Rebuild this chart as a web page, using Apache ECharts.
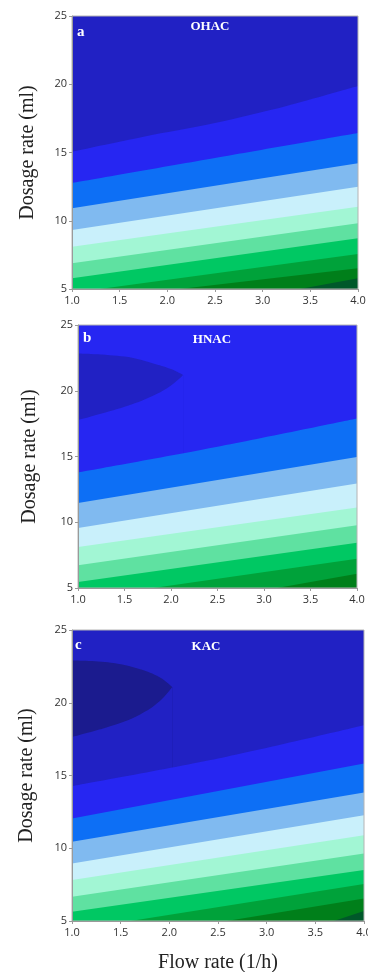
<!DOCTYPE html>
<html>
<head>
<meta charset="utf-8">
<script src="https://cdn.jsdelivr.net/npm/echarts@6/dist/echarts.min.js"></script>
<style>html,body{margin:0;padding:0;background:#fff;}#c{width:368px;height:972px;}</style>
</head>
<body>
<div id="c"></div>
<script>
// ---- data ----
const panelNames = ['OHAC', 'HNAC', 'KAC'];
const panelLetters = ['a', 'b', 'c'];
const xTicks = [1.0, 1.5, 2.0, 2.5, 3.0, 3.5, 4.0];
const yTicks = [5, 10, 15, 20, 25];

// Panel a: contour boundaries [flow, dosage], each listed top to bottom
const aBound1 = [[1, 15.06], [1.75, 16.16], [2.5, 17.16], [3.25, 18.41], [4, 19.87]];
const aBound2 = [[1, 12.77], [2.5, 14.6], [4, 16.43]];
const aBound3 = [[1, 10.91], [4, 14.21]];
const aBound4 = [[1, 9.32], [4, 12.5]];
const aBound5 = [[1, 8.1], [4, 11.03]];
const aBound6 = [[1, 6.88], [4, 9.81]];
const aBound7 = [[1, 5.78], [4, 8.71]];
const aBound8 = [[1.29, 5], [4, 7.56]];
const aBound9 = [[2.13, 5], [4, 6.52]];
const aBound10 = [[3.39, 5], [4, 5.78]];

// Panel b
const bEllipseUpper = [[1, 22.84], [1.5, 22.6], [1.8, 22.1], [2.0, 21.65], [2.13, 21.2]];
const bEllipseLower = [[1, 17.77], [1.5, 18.78], [1.8, 19.6], [2.0, 20.4], [2.13, 21.2]];
const bBound1 = [[1, 13.78], [2.5, 15.74], [4, 17.89]];
const bBound2 = [[1, 11.47], [4, 14.97]];
const bBound3 = [[1, 9.57], [4, 12.94]];
const bBound4 = [[1, 8.12], [4, 11.12]];
const bBound5 = [[1, 6.73], [4, 9.77]];
const bBound6 = [[1, 5.46], [4, 8.45]];
const bBound7 = [[1.81, 5], [4, 7.23]];
const bBound8 = [[3.14, 5], [4, 6.09]];

// Panel c
const cEllipseUpper = [[1, 22.9], [1.4, 22.75], [1.7, 22.3], [1.9, 21.75], [2.03, 21.08]];
const cEllipseLower = [[1, 17.65], [1.4, 18.4], [1.7, 19.2], [1.9, 20.1], [2.03, 21.08]];
const cBound1 = [[1, 14.26], [2.5, 16.16], [4, 18.45]];
const cBound2 = [[1, 12.04], [4, 15.82]];
const cBound3 = [[1, 10.44], [4, 13.83]];
const cBound4 = [[1, 8.96], [4, 12.27]];
const cBound5 = [[1, 7.81], [4, 10.9]];
const cBound6 = [[1, 6.67], [4, 9.64]];
const cBound7 = [[1, 5.64], [4, 8.5]];
const cBound8 = [[1.6, 5], [4, 7.54]];
const cBound9 = [[2.59, 5], [4, 6.55]];
const cBound10 = [[3.69, 5], [4, 5.69]];

const topEdge = [[1, 25], [4, 25]];

// ---- styling ----
const C = {
  navy: '#1b1b8e', darkBlue: '#2121c4', brightBlue: '#2626f2', midBlue: '#0d6ff5',
  lightBlue: '#80baf0', paleBlue: '#c9f0fb', mint: '#a2f6d4', lightGreen: '#5fe1a1',
  green: '#00c863', darkerGreen: '#00a23a', darkGreen: '#007f1a', darkestGreen: '#00582a'
};

const panels = [
  { grid: { left: 72, right: 10, top: 16, height: 273 }, nameGap: 34, fills: [
      [topEdge, C.darkBlue], [aBound1, C.brightBlue], [aBound2, C.midBlue], [aBound3, C.lightBlue],
      [aBound4, C.paleBlue], [aBound5, C.mint], [aBound6, C.lightGreen], [aBound7, C.green],
      [aBound8, C.darkerGreen], [aBound9, C.darkGreen], [aBound10, C.darkestGreen]] },
  { grid: { left: 78, right: 11, top: 325, height: 263 }, nameGap: 38, fills: [
      [topEdge, C.brightBlue], [bEllipseUpper, C.darkBlue, true], [bEllipseLower, C.brightBlue, true],
      [bBound1, C.midBlue], [bBound2, C.lightBlue], [bBound3, C.paleBlue], [bBound4, C.mint],
      [bBound5, C.lightGreen], [bBound6, C.green], [bBound7, C.darkerGreen], [bBound8, C.darkGreen]] },
  { grid: { left: 72, right: 4, top: 630, height: 291 }, nameGap: 35, fills: [
      [topEdge, C.darkBlue], [cEllipseUpper, C.navy, true], [cEllipseLower, C.darkBlue, true],
      [cBound1, C.brightBlue], [cBound2, C.midBlue], [cBound3, C.lightBlue], [cBound4, C.paleBlue],
      [cBound5, C.mint], [cBound6, C.lightGreen], [cBound7, C.green], [cBound8, C.darkerGreen],
      [cBound9, C.darkGreen], [cBound10, C.darkestGreen]] }
];

const serif = '"Liberation Serif", "DejaVu Serif", serif';
const sans = '"Open Sans", "Liberation Sans", sans-serif';

const grids = [], xAxes = [], yAxes = [], series = [];
panels.forEach((p, i) => {
  grids.push(Object.assign({ show: true, borderColor: '#b4b4b4', borderWidth: 1, backgroundColor: 'transparent', z: 5,
    containLabel: false, outerBoundsMode: 'none' }, p.grid));
  xAxes.push({
    type: 'value', gridIndex: i, min: xTicks[0], max: xTicks[xTicks.length - 1], interval: 0.5, z: 6,
    axisLine: { show: true, lineStyle: { color: '#9a9a9a' } },
    axisTick: { show: true, length: 3, lineStyle: { color: '#9a9a9a' } },
    splitLine: { show: false },
    axisLabel: { fontFamily: sans, fontSize: 11, color: '#333', margin: 6, formatter: v => v.toFixed(1) },
    name: i === 2 ? 'Flow rate (1/h)' : '', nameLocation: 'middle', nameGap: 32,
    nameTextStyle: { fontFamily: serif, fontSize: 20, color: '#222' }
  });
  yAxes.push({
    type: 'value', gridIndex: i, min: yTicks[0], max: yTicks[yTicks.length - 1], interval: 5, z: 6,
    axisLine: { show: true, lineStyle: { color: '#9a9a9a' } },
    axisTick: { show: true, length: 3, lineStyle: { color: '#9a9a9a' } },
    splitLine: { show: false },
    axisLabel: { fontFamily: sans, fontSize: 11, color: '#333', margin: 5 },
    name: 'Dosage rate (ml)', nameLocation: 'middle', nameGap: p.nameGap,
    nameTextStyle: { fontFamily: serif, fontSize: 20, color: '#222' }
  });
  p.fills.forEach(f => {
    series.push({
      type: 'line', xAxisIndex: i, yAxisIndex: i, data: f[0], smooth: f[2] ? 0.4 : (f[0].length > 2 ? 0.3 : false),
      showSymbol: false, silent: true, lineStyle: { width: 0 },
      areaStyle: { color: f[1], opacity: 1, origin: 'start' }
    });
  });
});

const labelPos = [
  { lx: 77, ly: 25, tx: 210, ty: 20 },
  { lx: 83, ly: 331, tx: 212, ty: 333 },
  { lx: 75, ly: 638, tx: 206, ty: 640 }
];
const graphics = [];
labelPos.forEach((q, i) => {
  graphics.push({ type: 'text', x: q.lx, y: q.ly, z: 10, style: { text: panelLetters[i], fill: '#fff', font: 'bold 15px ' + serif } });
  graphics.push({ type: 'text', x: q.tx, y: q.ty, z: 10, style: { text: panelNames[i], fill: '#fff', font: 'bold 13px ' + serif, textAlign: 'center' } });
});

const chart = echarts.init(document.getElementById('c'), null, { renderer: 'canvas' });
chart.setOption({
  animation: false,
  backgroundColor: '#ffffff',
  grid: grids, xAxis: xAxes, yAxis: yAxes, series: series, graphic: graphics
});
</script>
</body>
</html>
